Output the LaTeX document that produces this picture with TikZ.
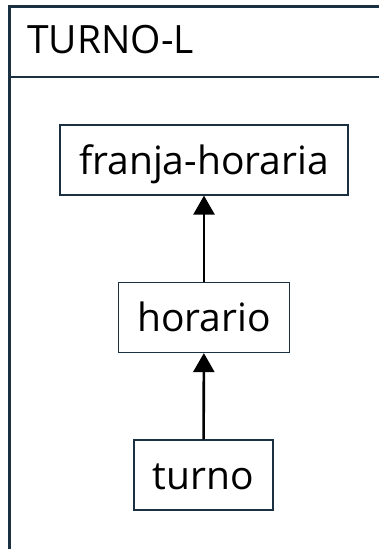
\documentclass[tikz,border=0pt]{standalone}
\usepackage{fontspec}
\setmainfont{Open Sans}
\usetikzlibrary{arrows.meta}
\definecolor{marco}{HTML}{1B3142}
\begin{document}
\begin{tikzpicture}[x=1pt, y=-1pt, >={Triangle[length=19pt, width=21pt]},
  main/.style = {draw=marco, line width=1.2pt, rectangle, minimum height=70pt, inner xsep=19pt,
                 text height=37pt, text depth=9pt, font=\fontsize{39}{42}\selectfont},
  link/.style = {->, line width=2.6pt}]
    \useasboundingbox (0,0) rectangle (379,549);
    \clip (0,0) rectangle (379,549);
    % Frame
    \draw[marco, line width=3pt] (9.75,6.3) rectangle (420,580);
    \draw[marco, line width=1.5pt] (9.75,77) -- (420,77);
    \node[anchor=base west, inner sep=0pt, font=\fontsize{39}{42}\selectfont] (titulo) at (27,53) {TURNO-L};

    % Nodes
    \node[main] (franja) at (204,160) {franja-horaria};
    \node[main] (horario) at (204,317.5) {horario};
    \node[main] (turno) at (203.5,475) {turno};

    % Edges
    \draw[link] (turno) -- (horario);
    \draw[link] (horario) -- (franja);
\end{tikzpicture}
\end{document}
